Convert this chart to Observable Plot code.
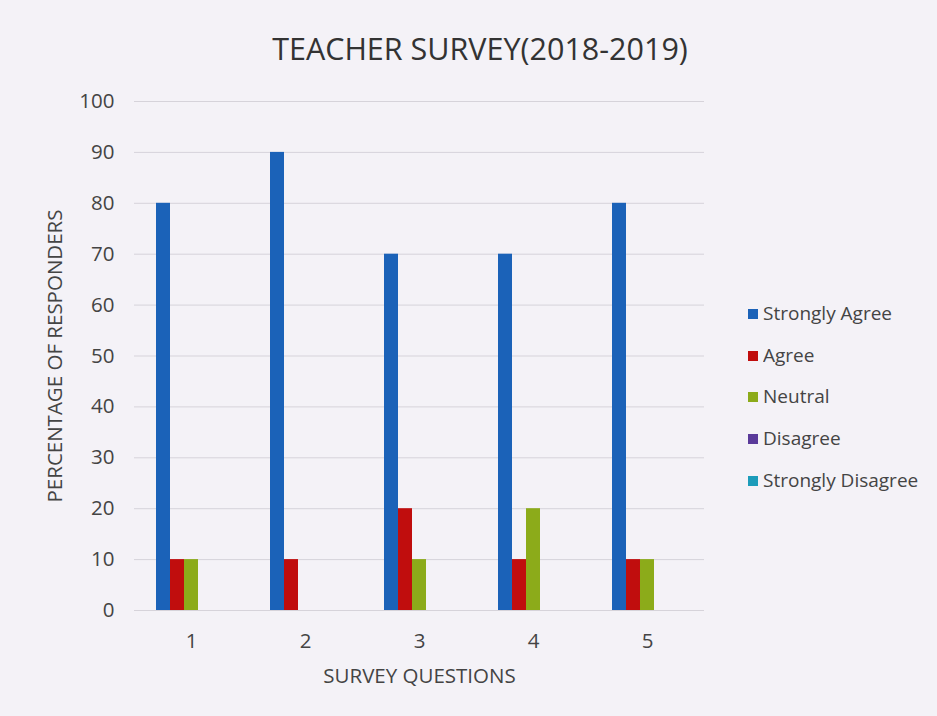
<!DOCTYPE html>
<html>
<head>
<meta charset="utf-8">
<script src="https://cdn.jsdelivr.net/npm/d3@7"></script>
<script src="https://cdn.jsdelivr.net/npm/@observablehq/plot@0.6"></script>
<style>
  html, body { margin: 0; padding: 0; background: #f4f2f7; }
  #wrap { position: relative; width: 937px; height: 716px; background: #f4f2f7; font-family: "Open Sans", sans-serif; }
  #title { position: absolute; top: 27px; left: 0; width: 960px; text-align: center; font-size: 30.5px; color: #333; }
  #chart { position: absolute; left: 0; top: 0; }
  #legend { position: absolute; left: 748px; top: 293px; }
  #legend .lg-swatch { height: 41.7px !important; align-items: center; margin: 0 !important; padding: 0 !important; }
  #legend .lg-swatch, #legend .lg-swatch span { font-size: 19px; color: #444; font-family: "Open Sans", sans-serif; line-height: 41.7px; }
  #legend .lg-swatch svg { margin-right: 5px; }
  #chart svg text { font-size: 20.5px; }
</style>
</head>
<body>
<div id="wrap">
  <div id="title">TEACHER SURVEY(2018-2019)</div>
  <div id="chart"></div>
  <div id="legend"></div>
</div>
<script>
const questions = ["1", "2", "3", "4", "5"];
const series = ["Strongly Agree", "Agree", "Neutral", "Disagree", "Strongly Disagree"];
const stronglyAgree = [80, 90, 70, 70, 80];
const agree = [10, 10, 20, 10, 10];
const neutral = [10, 0, 10, 20, 10];
const disagree = [0, 0, 0, 0, 0];
const stronglyDisagree = [0, 0, 0, 0, 0];
const yTicks = [0, 10, 20, 30, 40, 50, 60, 70, 80, 90, 100];
const colors = ["#1b62b8", "#c00d0d", "#8cab1a", "#5a3a9a", "#1c9cba"];

const valuesBySeries = [stronglyAgree, agree, neutral, disagree, stronglyDisagree];
const data = [];
questions.forEach((q, i) => {
  series.forEach((s, j) => {
    data.push({question: q, series: s, value: valuesBySeries[j][i]});
  });
});

const chart = Plot.plot({
  width: 720,
  height: 716,
  marginLeft: 133,
  marginRight: 15,
  marginTop: 101,
  marginBottom: 106,
  style: {background: "transparent", fontFamily: "Open Sans, sans-serif", fontSize: "20.5px", color: "#444"},
  fx: {domain: questions, padding: 0, label: null},
  x: {domain: series, paddingInner: 0, paddingOuter: 1.45, axis: null},
  y: {domain: [0, 100], ticks: yTicks, label: null},
  color: {domain: series, range: colors},
  marks: [
    Plot.gridY(yTicks, {stroke: "#d6d3da", strokeOpacity: 1, strokeWidth: 1}),
    Plot.axisY(yTicks, {tickSize: 0, tickPadding: 20, fill: "#444",
      label: "PERCENTAGE OF RESPONDERS", labelAnchor: "center", labelArrow: "none", labelOffset: 87}),
    Plot.axisFx({anchor: "bottom", tickSize: 0, tickPadding: 23, fill: "#444",
      label: "SURVEY QUESTIONS", labelAnchor: "center", labelArrow: "none", labelOffset: 72}),
    Plot.barY(data, {fx: "question", x: "series", y: "value", fill: "series", inset: 0})
  ]
});
document.getElementById("chart").appendChild(chart);

const leg = Plot.legend({
  color: {domain: series, range: colors},
  legend: "swatches",
  columns: 1,
  swatchSize: 10,
  className: "lg",
  style: {fontSize: "19px", fontFamily: "Open Sans, sans-serif", color: "#444", background: "transparent"}
});
document.getElementById("legend").appendChild(leg);
</script>
</body>
</html>
